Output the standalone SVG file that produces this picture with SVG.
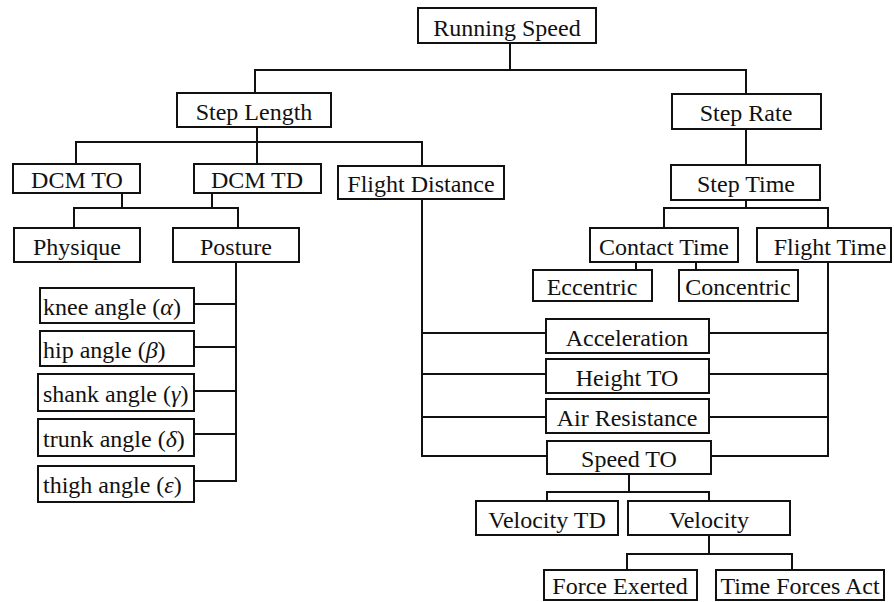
<svg xmlns="http://www.w3.org/2000/svg" width="894" height="602" viewBox="0 0 894 602">
<style>
rect{fill:#fff;stroke:#111;stroke-width:2}
text{font-family:"Liberation Serif","Times New Roman",serif;font-size:24px;fill:#111;text-anchor:middle}
text.l{text-anchor:start}
.g{font-style:italic}
#connectors path{fill:none;stroke:#111;stroke-width:2}
</style>
<rect x="0" y="0" width="894" height="602" style="fill:#fff;stroke:none"/>
<g id="connectors">
<path d="M510,43 V70"/>
<path d="M255,93 V70 H746 V94"/>
<path d="M257,127 V164"/>
<path d="M76,164 V142 H422 V166"/>
<path d="M746,129 V165"/>
<path d="M122,193 V208"/>
<path d="M212,193 V208"/>
<path d="M74,228 V208 H238 V228"/>
<path d="M236,262 V481 H194"/>
<path d="M194,304 H236"/>
<path d="M194,347 H236"/>
<path d="M194,391 H236"/>
<path d="M194,434 H236"/>
<path d="M746,200 V208"/>
<path d="M664,228 V208 H828 V228"/>
<path d="M636,262 V270"/>
<path d="M696,262 V270"/>
<path d="M422,199 V456 H547"/>
<path d="M422,333 H546"/>
<path d="M422,374 H546"/>
<path d="M422,417 H546"/>
<path d="M828,262 V456 H711"/>
<path d="M709,333 H828"/>
<path d="M709,374 H828"/>
<path d="M709,417 H828"/>
<path d="M629,474 V492"/>
<path d="M547,501 V492 H709 V501"/>
<path d="M709,535 V554"/>
<path d="M627,570 V554 H792 V570"/>
</g>
<g id="running-speed"><rect x="418" y="8" width="178" height="35"/><text x="507" y="35.5">Running Speed</text></g>
<g id="step-length"><rect x="177" y="93" width="154" height="34"/><text x="254" y="119.5">Step Length</text></g>
<g id="step-rate"><rect x="672" y="94" width="149" height="35"/><text x="746" y="120.5">Step Rate</text></g>
<g id="dcm-to"><rect x="13" y="164" width="127" height="29"/><text x="77" y="187.5">DCM TO</text></g>
<g id="dcm-td"><rect x="194" y="164" width="127" height="29"/><text x="257" y="187.5">DCM TD</text></g>
<g id="flight-distance"><rect x="338" y="166" width="166" height="33"/><text x="421" y="191.5">Flight Distance</text></g>
<g id="step-time"><rect x="671" y="165" width="149" height="35"/><text x="746" y="191.5">Step Time</text></g>
<g id="physique"><rect x="14" y="228" width="126" height="34"/><text x="77" y="254.5">Physique</text></g>
<g id="posture"><rect x="173" y="228" width="126" height="34"/><text x="236" y="254.5">Posture</text></g>
<g id="contact-time"><rect x="590" y="228" width="148" height="34"/><text x="664" y="254.5">Contact Time</text></g>
<g id="flight-time"><rect x="757" y="228" width="134" height="34"/><text x="830" y="254.5">Flight Time</text></g>
<g id="eccentric"><rect x="533" y="270" width="119" height="31"/><text x="592" y="294.5">Eccentric</text></g>
<g id="concentric"><rect x="679" y="270" width="119" height="31"/><text x="738" y="294.5">Concentric</text></g>
<g id="knee-angle"><rect x="40" y="288" width="154" height="35"/><text class="l" x="43" y="314.5">knee angle (<tspan class="g">α</tspan>)</text></g>
<g id="hip-angle"><rect x="40" y="331" width="154" height="35"/><text class="l" x="43" y="357.5">hip angle (<tspan class="g">β</tspan>)</text></g>
<g id="shank-angle"><rect x="38" y="374" width="156" height="37"/><text class="l" x="43" y="401.5">shank angle (<tspan class="g">γ</tspan>)</text></g>
<g id="trunk-angle"><rect x="38" y="419" width="156" height="37"/><text class="l" x="43" y="446.5">trunk angle (<tspan class="g">δ</tspan>)</text></g>
<g id="thigh-angle"><rect x="38" y="466" width="156" height="36"/><text class="l" x="43" y="492.5">thigh angle (<tspan class="g">ε</tspan>)</text></g>
<g id="acceleration"><rect x="546" y="319" width="163" height="34"/><text x="627" y="345.5">Acceleration</text></g>
<g id="height-to"><rect x="546" y="359" width="163" height="34"/><text x="627" y="385.5">Height TO</text></g>
<g id="air-resistance"><rect x="546" y="399" width="163" height="34"/><text x="627" y="425.5">Air Resistance</text></g>
<g id="speed-to"><rect x="547" y="441" width="164" height="33"/><text x="629" y="466.5">Speed TO</text></g>
<g id="velocity-td"><rect x="476" y="501" width="142" height="34"/><text x="547" y="527.5">Velocity TD</text></g>
<g id="velocity"><rect x="628" y="501" width="162" height="34"/><text x="709" y="527.5">Velocity</text></g>
<g id="force-exerted"><rect x="544" y="570" width="153" height="30"/><text x="620" y="594">Force Exerted</text></g>
<g id="time-forces-act"><rect x="716" y="570" width="168" height="30"/><text x="800" y="594">Time Forces Act</text></g>
</svg>
